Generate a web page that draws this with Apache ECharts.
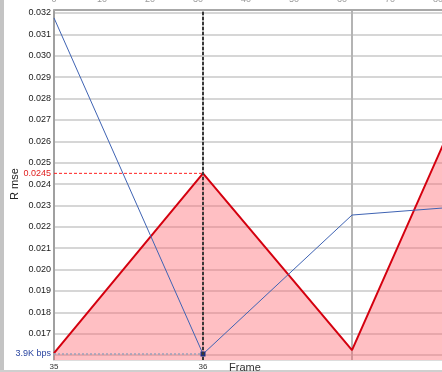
<!DOCTYPE html>
<html>
<head>
<meta charset="utf-8">
<script src="https://cdn.jsdelivr.net/npm/echarts@6/dist/echarts.min.js"></script>
<style>html,body{margin:0;padding:0;background:#fff;}#c{width:442px;height:372px;}</style>
</head>
<body>
<div id="c"></div>
<script>
// ---- data ----
const frames = [35, 36, 37, 38];
const rmseRed = [0.01609, 0.0245, 0.01623, 0.03195];
const rmseBlue = [0.03177, 0.01605, 0.02255, 0.02309];
const selectedFrame = 36;
const selectedRmse = 0.0245;
const bitrateLabel = '3.9K bps';
const yGridValues = [0.016, 0.017, 0.018, 0.019, 0.020, 0.021, 0.022, 0.023, 0.024, 0.025, 0.026, 0.027, 0.028, 0.029, 0.030, 0.031, 0.032];
const yLabelValues = [0.017, 0.018, 0.019, 0.020, 0.021, 0.022, 0.023, 0.024, 0.025, 0.026, 0.027, 0.028, 0.029, 0.030, 0.031, 0.032];
const xLabelValues = [35, 36];
const yAxisTitle = 'R mse';
const xAxisTitle = 'Frame';

const FONT = '"Liberation Sans", Arial, sans-serif';
const chart = echarts.init(document.getElementById('c'), null, {renderer: 'canvas'});

const blueIdx = frames.indexOf(selectedFrame);
const allYLabels = yLabelValues.concat([selectedRmse, rmseBlue[blueIdx]]);

chart.setOption({
  animation: false,
  backgroundColor: '#ffffff',
  grid: {left: 54, right: -59, top: 10, bottom: 12, outerBoundsMode: 'none', containLabel: false},
  xAxis: [
    {
      type: 'value', position: 'bottom', min: 35, max: 38, interval: 1,
      axisLine: {show: true, lineStyle: {color: '#dddddd', width: 1}},
      axisTick: {show: false},
      splitLine: {show: true, lineStyle: {color: '#b4b4b4', width: 2}},
      axisLabel: {customValues: xLabelValues, fontSize: 8, color: '#333', margin: 3, fontFamily: FONT}
    },
    {
      type: 'value', position: 'top', min: 0, max: 93.1, interval: 10,
      axisLine: {show: true, lineStyle: {color: '#a8a8a8', width: 2}},
      axisTick: {show: false},
      splitLine: {show: false},
      axisLabel: {fontSize: 9, color: '#999', margin: 6, fontFamily: FONT}
    }
  ],
  yAxis: {
    type: 'value', min: 0.01577, max: 0.03214,
    axisLine: {show: true, lineStyle: {color: '#9a9a9a', width: 1.5}},
    axisTick: {show: false, customValues: yGridValues},
    splitLine: {show: true, lineStyle: {color: '#c8c8c8', width: 1.5}},
    axisLabel: {
      customValues: allYLabels, fontSize: 9, color: '#1a1a1a', margin: 3, fontFamily: FONT,
      formatter: function (v) {
        if (Math.abs(v - selectedRmse) < 1e-7) return '{r|' + selectedRmse + '}';
        if (Math.abs(v - rmseBlue[blueIdx]) < 1e-7) return '{b|' + bitrateLabel + '}';
        return v.toFixed(3);
      },
      rich: {
        r: {color: '#e02020', fontSize: 9, fontFamily: FONT},
        b: {color: '#2a45a0', fontSize: 9, fontFamily: FONT}
      }
    }
  },
  series: [
    {
      name: 'red', type: 'line', xAxisIndex: 0,
      data: frames.map((f, i) => [f, rmseRed[i]]),
      symbol: 'none',
      lineStyle: {color: '#d4000f', width: 2},
      areaStyle: {color: 'rgb(255,100,110)', opacity: 0.41, origin: 'start'},
      z: 2
    },
    {
      name: 'redRef', type: 'line', xAxisIndex: 0,
      data: [[frames[0], selectedRmse], [selectedFrame, selectedRmse]],
      symbol: 'none',
      lineStyle: {color: '#ff2020', type: [3, 2], width: 1},
      z: 3
    },
    {
      name: 'bpsRef', type: 'line', xAxisIndex: 0,
      data: [[frames[0], rmseBlue[blueIdx]], [selectedFrame, rmseBlue[blueIdx]]],
      symbol: 'none',
      lineStyle: {color: '#9aa2ba', type: [2, 2], width: 1.5},
      z: 3
    },
    {
      name: 'blue', type: 'line', xAxisIndex: 0,
      data: frames.map((f, i) => (f === selectedFrame
        ? {value: [f, rmseBlue[i]], symbol: 'rect', symbolSize: 5, itemStyle: {color: '#1d2f80'}}
        : {value: [f, rmseBlue[i]], symbol: 'none'})),
      lineStyle: {color: '#3f63b3', width: 1},
      itemStyle: {color: '#3f63b3'},
      z: 4
    },
    {
      name: 'cursor', type: 'line', xAxisIndex: 0,
      data: [],
      z: 5,
      markLine: {
        silent: true, symbol: 'none', label: {show: false},
        lineStyle: {color: '#383838', type: [3, 2], width: 2},
        data: [{xAxis: selectedFrame}]
      }
    }
  ],
  graphic: [
    {type: 'rect', left: 0, top: 0, shape: {width: 4, height: 372}, style: {fill: '#c4c4c4'}, silent: true},
    {type: 'rect', left: 0, top: 370, shape: {width: 442, height: 2}, style: {fill: '#cfcfcf'}, silent: true},
    {type: 'text', x: 229, y: 362, style: {text: xAxisTitle, fontSize: 11, fill: '#333', fontFamily: FONT}, silent: true},
    {type: 'text', x: 15, y: 184, rotation: Math.PI / 2,
     style: {text: yAxisTitle, fontSize: 11, fill: '#222', fontFamily: FONT, align: 'center', verticalAlign: 'middle'}, silent: true}
  ]
});
</script>
</body>
</html>
